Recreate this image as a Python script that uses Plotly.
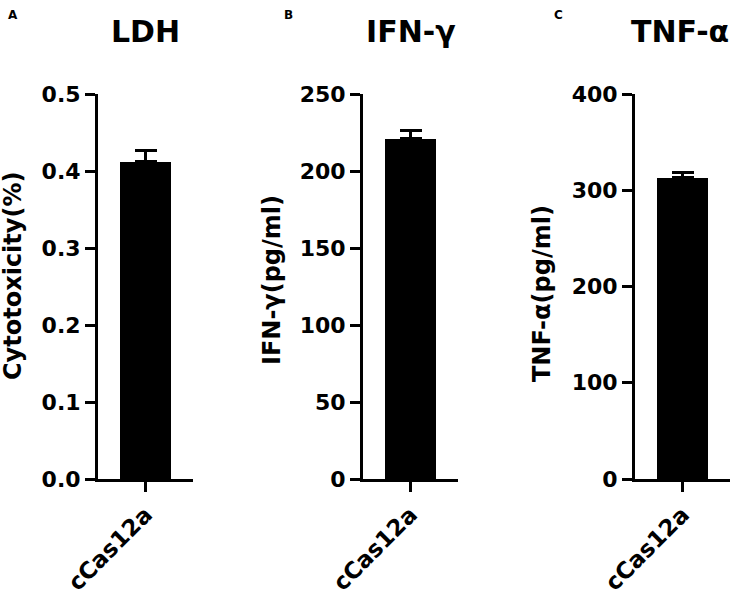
import plotly.graph_objects as go

W, H = 736, 597

categories = ["cCas12a"]
ldh_values = [0.412]
ldh_err = [0.015]
ifn_values = [221]
ifn_err = [5]
tnf_values = [313]
tnf_err = [5]

panels = [
    dict(letter="A", title="LDH", ytitle="Cytotoxicity(%)", vals=ldh_values, err=ldh_err,
         yrange=[0, 0.5], dtick=0.1, fmt=".1f", x0=98, x1=193, ytx=13, yty=276, letx=13, titx=145),
    dict(letter="B", title="IFN-γ", ytitle="IFN-γ(pg/ml)", vals=ifn_values, err=ifn_err,
         yrange=[0, 250], dtick=50, fmt="d", x0=363, x1=458, ytx=272, yty=280, letx=288, titx=411),
    dict(letter="C", title="TNF-α", ytitle="TNF-α(pg/ml)", vals=tnf_values, err=tnf_err,
         yrange=[0, 400], dtick=100, fmt="d", x0=635, x1=730, ytx=542, yty=294, letx=558, titx=680),
]

ytop, ybot = 94, 479
fig = go.Figure()
FONT = "DejaVu Sans, Liberation Sans, sans-serif"
annotations = []
for i, p in enumerate(panels):
    n = "" if i == 0 else str(i + 1)
    fig.add_trace(go.Bar(
        x=categories, y=p["vals"], marker=dict(color="black", line=dict(width=0)),
        width=0.54,
        error_y=dict(type="data", array=p["err"], symmetric=False, arrayminus=[0],
                     color="black", thickness=3, width=11),
        xaxis="x" + n, yaxis="y" + n, showlegend=False))
    fig.update_layout(**{
        "xaxis" + n: dict(domain=[p["x0"] / W, p["x1"] / W], anchor="y" + n, automargin=False,
                          range=[-0.5, 0.5], showline=True, linecolor="black", linewidth=3,
                          ticks="outside", ticklen=10, tickwidth=3, tickcolor="black",
                          tickangle=-45, showgrid=False, zeroline=False,
                          tickfont=dict(family=FONT, size=23, color="black", weight="bold")),
        "yaxis" + n: dict(domain=[1 - ybot / H, 1 - ytop / H], anchor="x" + n, automargin=False,
                          range=p["yrange"], dtick=p["dtick"], tickformat=p["fmt"],
                          showline=True, linecolor="black", linewidth=3,
                          ticks="outside", ticklen=10, tickwidth=3, tickcolor="black",
                          showgrid=False, zeroline=False,
                          tickfont=dict(family=FONT, size=22, color="black", weight="bold")),
    })
    annotations.append(dict(text=p["title"], x=p["titx"] / W, y=1 - 31 / H, xref="paper", yref="paper",
                            showarrow=False, xanchor="center", yanchor="middle",
                            font=dict(family=FONT, size=30, color="black", weight="bold")))
    annotations.append(dict(text=p["letter"], x=p["letx"] / W, y=1 - 15 / H, xref="paper", yref="paper",
                            showarrow=False, xanchor="center", yanchor="middle",
                            font=dict(family=FONT, size=12, color="black", weight="bold")))
    annotations.append(dict(text=p["ytitle"], x=p["ytx"] / W, y=1 - p["yty"] / H, xref="paper", yref="paper",
                            showarrow=False, xanchor="center", yanchor="middle", textangle=-90,
                            font=dict(family=FONT, size=24, color="black", weight="bold")))

fig.update_layout(width=W, height=H, margin=dict(l=0, r=0, t=0, b=0),
                  plot_bgcolor="white", paper_bgcolor="white", annotations=annotations,
                  bargap=0)
fig.write_html("out.html", config={"displayModeBar": False},
               post_script="document.body.style.margin='0';")
